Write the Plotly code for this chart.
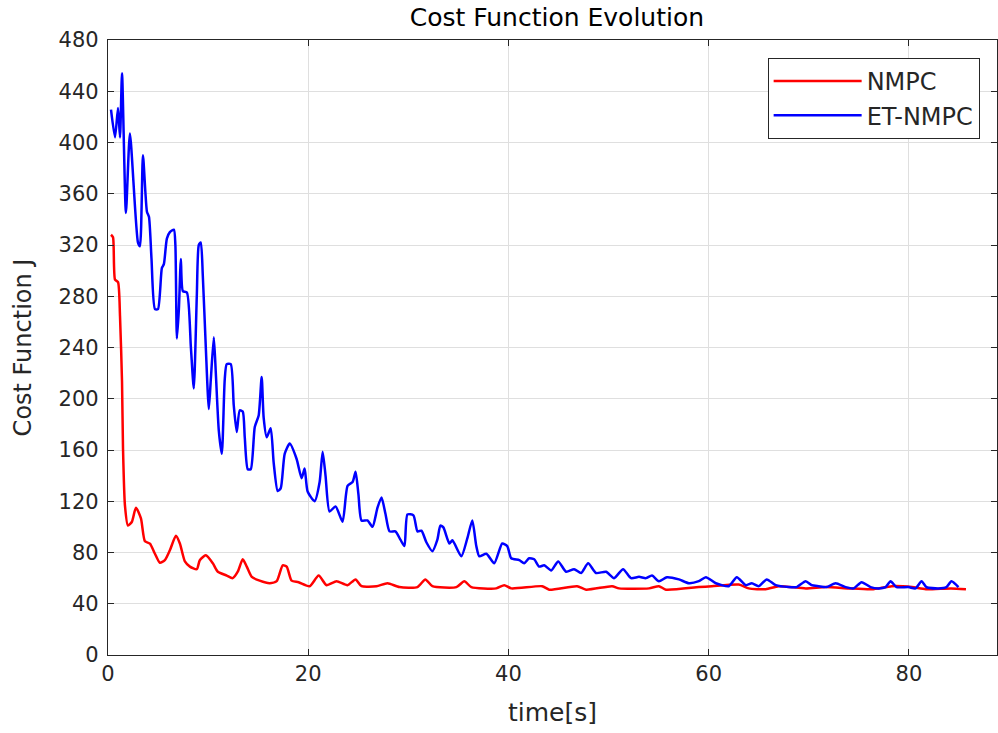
import plotly.graph_objects as go

# NMPC cost (red)
nmpc_t = [0.30, 0.50, 0.70, 1.00, 1.20, 1.40, 1.50, 1.69, 1.99, 2.39, 2.79, 3.29, 3.69, 4.19, 4.69,
          5.18, 5.68, 6.18, 6.78, 7.18, 7.68, 8.18, 8.87, 9.17, 9.77, 10.47, 10.97, 11.86, 12.46,
          12.96, 13.46, 13.86, 14.36, 15.15, 16.15, 16.85, 17.45, 17.85, 18.34, 19.04, 20.14,
          21.04, 21.83, 22.83, 23.93, 24.73, 25.32, 26.82, 27.92, 29.11, 30.91, 31.70, 32.40,
          34.80, 35.59, 36.29, 38.78, 39.58, 40.28, 43.37, 44.07, 46.86, 47.76, 50.35, 51.05,
          54.04, 55.03, 55.73, 59.02, 60.32, 63.01, 64.0, 65.7, 67.0, 69.7, 71.7, 74.0, 76.3,
          78.3, 80.3, 81.7, 84.2, 85.7]
nmpc_j = [328, 326, 293, 291, 264.5, 213, 161, 117, 101, 104, 115, 106.6, 88.7, 87, 79,
          72, 74, 81.7, 93, 87, 73, 69, 67, 74, 77.8, 71.6, 65, 62, 60,
          65, 74.7, 69, 61, 58, 56, 57.6, 70, 69, 58, 56.8, 53.7,
          62, 54.5, 57.6, 54.5, 59, 53.7, 53.7, 56, 53, 53, 59, 53.7,
          53, 57.6, 53, 52, 54.5, 52, 53.7, 51, 53.7, 51, 53.7, 52,
          52, 53.7, 51, 53, 53.7, 55, 52, 51.3, 53.7, 52, 53, 52, 51.3,
          53.7, 53, 51.3, 52, 51.3]

# ET-NMPC cost (blue)
et_t = [0.30, 0.70, 1.00, 1.20, 1.40, 1.79, 2.19, 2.99, 3.19, 3.49, 3.89, 4.09, 4.34, 4.69, 4.99,
        5.38, 5.58, 5.88, 6.18, 6.58, 6.73, 6.88, 7.08, 7.28, 7.48, 7.88, 8.28, 8.57, 8.87,
        9.07, 9.27, 9.47, 9.77, 10.07, 10.27, 10.57, 10.77, 11.07, 11.37, 11.66, 11.86, 12.26,
        12.56, 12.86, 13.16, 13.46, 13.66, 13.96, 14.26, 14.66, 15.05, 15.35, 15.55, 15.85,
        16.25, 16.55, 16.95, 17.25, 17.65, 18.15, 18.84, 19.34, 19.64, 19.94, 20.64, 21.14,
        21.44, 21.73, 22.13, 22.73, 23.43, 23.93, 24.43, 24.73, 25.02, 25.32, 25.92, 26.42,
        26.92, 27.32, 27.72, 28.12, 28.71, 29.21, 29.61, 29.91, 30.51, 30.91, 31.31, 31.80,
        32.40, 32.90, 33.20, 33.50, 34.10, 34.40, 35.29, 35.89, 36.39, 36.79, 37.09, 37.79,
        38.58, 39.38, 39.88, 40.28, 41.08, 41.57, 42.07, 42.57, 43.07, 43.57, 44.27, 44.97,
        45.76, 46.56, 47.26, 47.96, 48.75, 49.75, 50.55, 51.45, 52.24, 53.04, 53.74, 54.34,
        55.03, 55.83, 57.03, 58.03, 59.02, 59.72, 60.72, 62.01, 62.81, 63.71, 64.31, 65.00,
        65.80, 66.70, 68.00, 68.79, 69.69, 70.29, 70.99, 71.78, 72.68, 73.68, 74.48, 75.27,
        76.17, 76.97, 77.67, 78.17, 78.76, 79.96, 80.66, 81.26, 81.75, 82.95, 83.75, 84.25,
        84.95]
et_j = [425.6, 404, 427, 404, 454, 345, 407, 322, 319, 390, 346, 342, 310, 270, 270,
        302, 305, 325, 330, 332, 320, 247, 270, 309, 284, 283, 240, 208, 280,
        320, 322, 296, 240, 192, 215, 248, 220, 175, 157, 215, 227, 227,
        195, 174, 191, 190, 170, 145, 145, 178, 187, 217, 185, 170,
        177, 150, 128, 130, 157, 165, 153, 138, 145.5, 127.6, 120, 135,
        158.7, 140, 112, 116, 104, 132, 135, 143, 125, 105, 105, 100,
        115, 123, 110, 96.5, 96.5, 90, 85, 109.7, 109, 96.5, 97, 88,
        81, 90, 101, 99.6, 87, 89.5, 77, 91, 105, 85, 77, 79,
        71.6, 87, 85, 75.5, 74, 71.6, 75.5, 74.7, 69, 70, 66, 73,
        65, 67, 64, 71.6, 64, 65, 60, 67, 60, 61, 60, 62,
        57.6, 60.7, 59, 56, 57.6, 60.7, 56, 53.7, 60.7, 54.5, 56, 53.7,
        59, 54.5, 53, 53, 57.6, 54.5, 53.7, 53, 56, 53, 52, 56.8,
        53, 52, 53, 57.6, 53, 53, 52, 57.6, 53, 52, 53, 57.6,
        53]

x_ticks = [0, 20, 40, 60, 80]
y_ticks = [0, 40, 80, 120, 160, 200, 240, 280, 320, 360, 400, 440, 480]

FONT = "DejaVu Sans, Liberation Sans, Arial, sans-serif"
TXT = "#262626"

fig = go.Figure()
fig.add_trace(go.Scatter(x=nmpc_t, y=nmpc_j, mode="lines", name="NMPC",
                         line=dict(color="#ff0000", width=2.5, shape="spline", smoothing=0.6)))
fig.add_trace(go.Scatter(x=et_t, y=et_j, mode="lines", name="ET-NMPC",
                         line=dict(color="#0000ff", width=2.5, shape="spline", smoothing=0.6)))

axis_common = dict(
    showgrid=True, gridcolor="#dfdfdf", gridwidth=1,
    showline=True, linecolor="#262626", linewidth=1.3, mirror="ticks",
    ticks="inside", ticklen=6, tickcolor="#262626", tickwidth=1,
    zeroline=False, tickfont=dict(family=FONT, size=21, color=TXT),
)

fig.update_layout(
    width=998, height=733,
    margin=dict(l=108, r=1, t=40, b=78),
    paper_bgcolor="white", plot_bgcolor="white",
    font=dict(family=FONT, color=TXT),
    title=dict(text="Cost Function Evolution", x=0.558, xanchor="center",
               y=0.976, yanchor="middle", font=dict(family=FONT, size=25, color="#000000")),
    xaxis=dict(range=[0, 88.8], tickvals=x_ticks, ticktext=[str(v) for v in x_ticks],
               title=dict(text="time[s]", font=dict(family=FONT, size=25, color=TXT), standoff=18),
               **axis_common),
    yaxis=dict(range=[0, 480], tickvals=y_ticks, ticktext=[str(v) for v in y_ticks],
               title=dict(text="Cost Function J", font=dict(family=FONT, size=24, color=TXT), standoff=20),
               ticklabelstandoff=4,
               **axis_common),
    legend=dict(x=0.742, y=0.971, xanchor="left", yanchor="top",
                bgcolor="white", bordercolor="#262626", borderwidth=1,
                font=dict(family=FONT, size=24, color=TXT),
                itemwidth=88, tracegroupgap=0),
    showlegend=True,
)

fig.write_html("out.html")
